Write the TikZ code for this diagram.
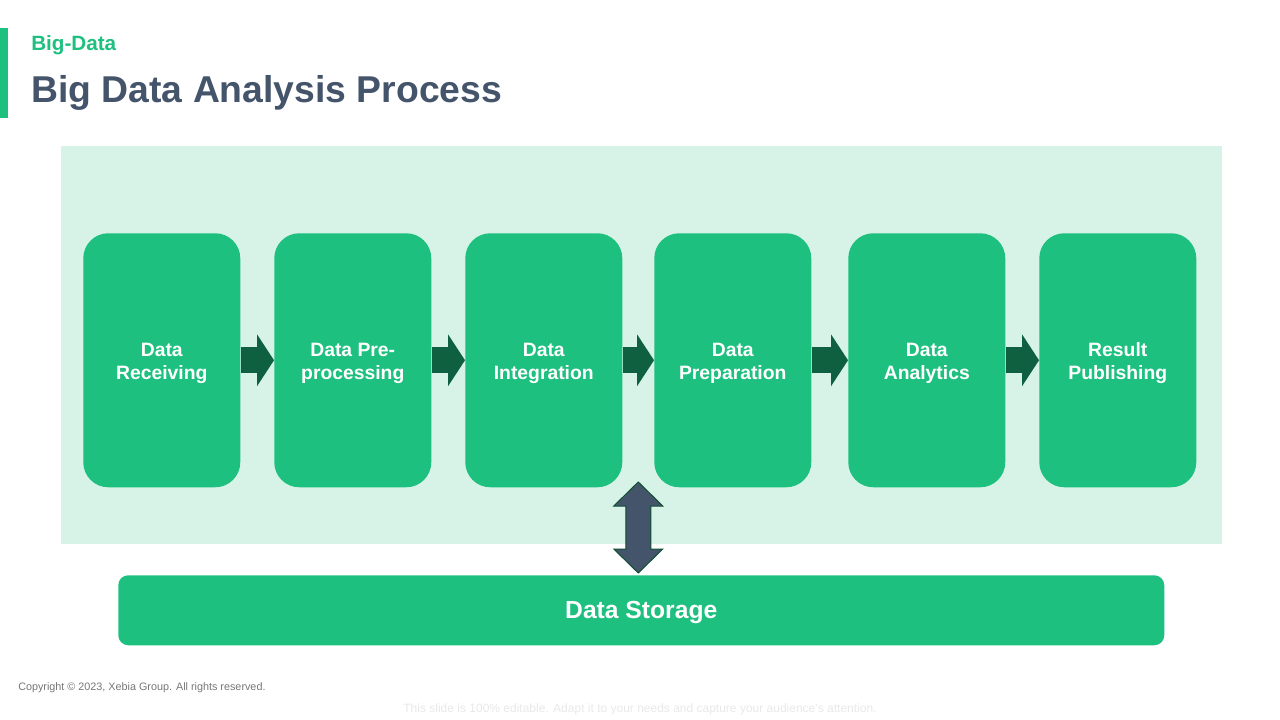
\documentclass[tikz,border=0pt]{standalone}
\usepackage{fontspec}
\setmainfont{Liberation Sans}
\usetikzlibrary{arrows.meta,calc}
\definecolor{brandgreen}{RGB}{30,192,128}
\definecolor{panelgreen}{RGB}{215,243,231}
\definecolor{arrowgreen}{RGB}{14,96,64}
\definecolor{slate}{RGB}{68,84,106}

\begin{document}
\begin{tikzpicture}[x=0.75pt,y=0.75pt,yscale=-1,xscale=1,
  stepbox/.style={fill=brandgreen, rounded corners=18.75pt, minimum width=117.75pt, minimum height=190.5pt, inner sep=0pt, align=center, text=white, font=\fontsize{14.5}{17.25}\selectfont\bfseries, text height=32pt},
  steparrow/.style={draw=arrowgreen, line width=19.5pt, -{Triangle[length=12.75pt,width=39pt,line width=0pt]}},
  linkarrow/.style={fill=slate, draw={rgb, 255:red, 14; green, 80; blue, 50}, line width=0.75pt}]
\useasboundingbox (0,0) rectangle (1280,720);

% Accent bar
\fill [brandgreen] (0,28) rectangle (8,118);
% Text Node
\draw (31,51) node [anchor=base west][inner sep=0pt] [color=brandgreen, font=\fontsize{15.5}{18}\selectfont\bfseries] (tag) {Big-Data};
% Text Node
\draw (31,103) node [anchor=base west][inner sep=0pt] [color=slate, font=\fontsize{28}{34}\selectfont\bfseries] (title) {Big Data Analysis Process};

% Panel
\fill [panelgreen] (61,146) rectangle (1222,544);

% Step boxes
\draw (83,233) node [anchor=north west, stepbox] (recv) {Data\\Receiving};
\draw (274,233) node [anchor=north west, stepbox] (prep) {Data Pre-\\processing};
\draw (465,233) node [anchor=north west, stepbox] (integ) {Data\\Integration};
\draw (654,233) node [anchor=north west, stepbox] (prepar) {Data\\Preparation};
\draw (848,233) node [anchor=north west, stepbox] (analyt) {Data\\Analytics};
\draw (1039,233) node [anchor=north west, stepbox] (publish) {Result\\Publishing};

% Connection
\draw [steparrow] (recv.east) -- (prep.west);
% Connection
\draw [steparrow] (prep.east) -- (integ.west);
% Connection
\draw [steparrow] (integ.east) -- (prepar.west);
% Connection
\draw [steparrow] (prepar.east) -- (analyt.west);
% Connection
\draw [steparrow] (analyt.east) -- (publish.west);

% Storage bar
\draw (118,575) node [anchor=north west][inner sep=0pt] [fill=brandgreen, rounded corners=7.5pt, minimum width=784.5pt, minimum height=52.5pt, text height=16.3pt, text=white, font=\fontsize{18.5}{22}\selectfont\bfseries] (storage) {Data Storage};

% Connection
\draw [linkarrow] ($(storage.north)+(-3,-2)$) -- ++(24.5,-24) -- ++(-12,0) -- ++(0,-43) -- ++(12,0) -- ++(-24.5,-24) -- ++(-24.5,24) -- ++(12,0) -- ++(0,43) -- ++(-12,0) -- cycle;

% Text Node
\draw (18,690) node [anchor=base west][inner sep=0pt] [color={rgb, 255:red, 118; green, 118; blue, 118}, font=\fontsize{8.1}{10}\selectfont] (copyright) {Copyright © 2023, Xebia Group. All rights reserved.};
% Text Node
\draw (640,712) node [anchor=base][inner sep=0pt] [color={rgb, 255:red, 232; green, 232; blue, 232}, font=\fontsize{9}{11}\selectfont] (note) {This slide is 100\% editable. Adapt it to your needs and capture your audience's attention.};

\end{tikzpicture}
\end{document}
